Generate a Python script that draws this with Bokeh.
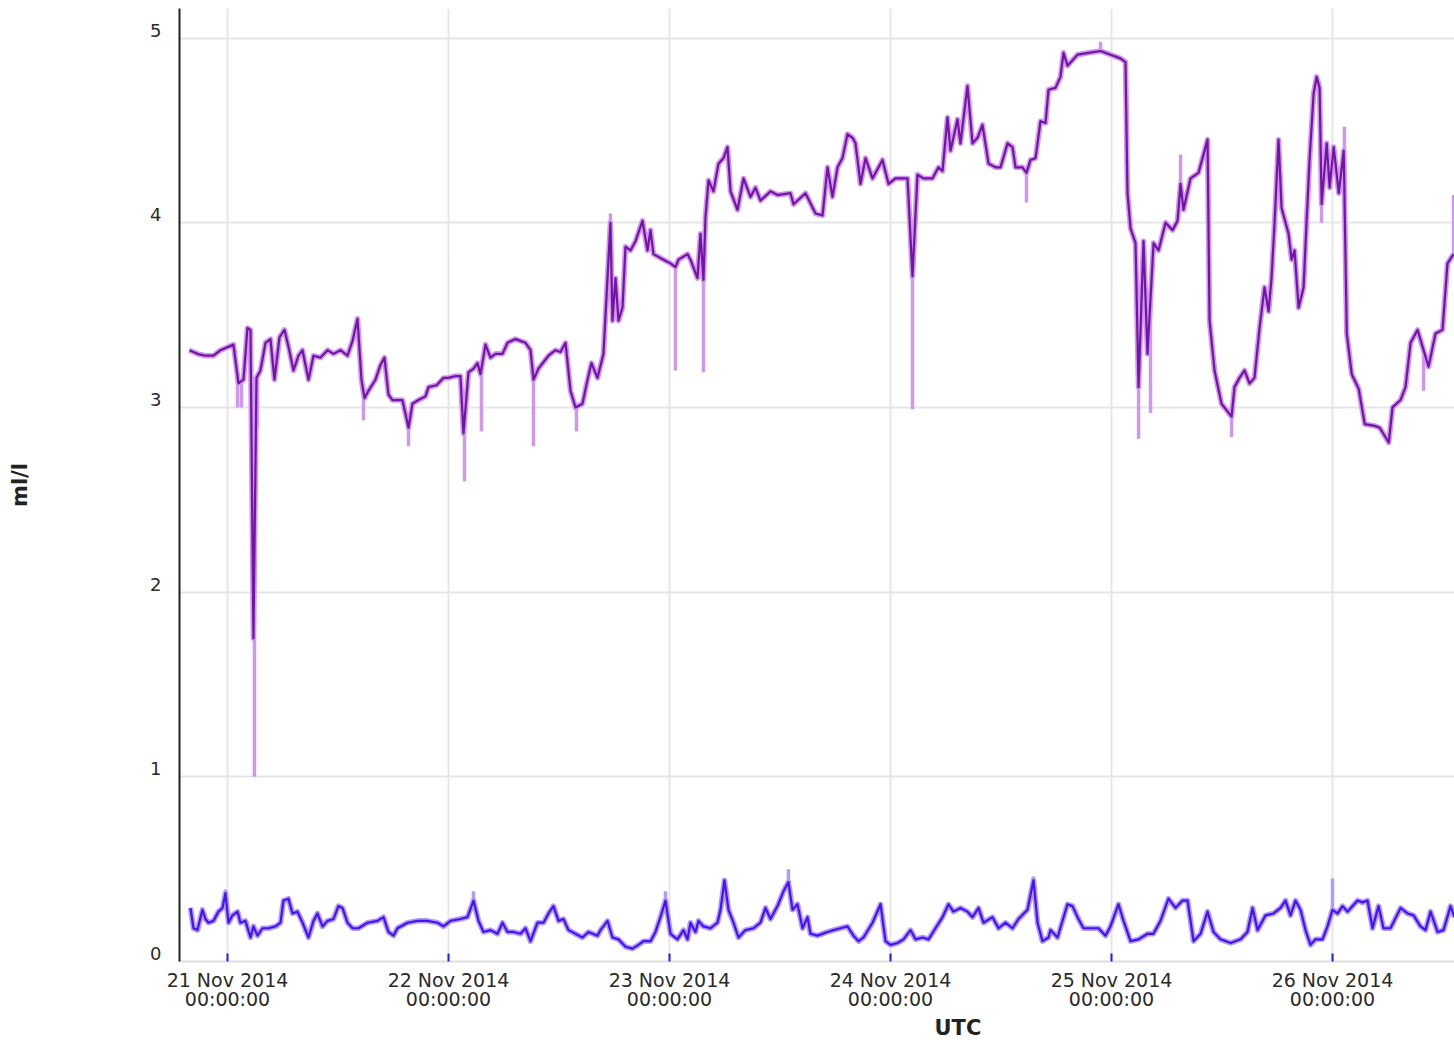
import numpy as np
import pandas as pd
from bokeh.plotting import figure
from bokeh.models import FixedTicker, Range1d, Title
from bokeh.embed import file_html
from bokeh.resources import INLINE

# ---------------- data (hours after 21 Nov 2014 00:00 UTC) ----------------
BASE = "2014-11-21 00:00:00"

purple_hours = [
    -4.13, -3.26, -2.39, -1.52, -0.76, 0.65, 1.19, 1.74, 2.17, 2.50, 2.82, 3.15, 3.58,
    4.13, 4.67, 5.10, 5.65, 6.19, 6.62, 7.17, 7.71, 8.15, 8.80, 9.34, 10.10, 10.86,
    11.51, 12.27, 13.03, 13.58, 14.12, 14.55, 14.88, 15.31, 16.07, 16.62, 17.05, 17.48,
    17.92, 19.00, 19.66, 20.09, 20.74, 21.50, 21.83, 22.70, 23.46, 24.00, 24.76, 25.30,
    25.63, 26.17, 26.72, 27.15, 27.48, 28.02, 28.56, 29.11, 29.87, 30.41, 31.28, 32.36,
    32.91, 33.23, 33.77, 34.86, 35.62, 36.16, 36.71, 37.25, 37.79, 38.55, 39.10, 39.53,
    40.18, 40.83, 41.27, 41.59, 41.81, 42.14, 42.46, 42.90, 43.22, 43.77, 44.31, 45.07,
    45.61, 45.94, 46.26, 47.35, 48.11, 48.65, 48.98, 49.96, 50.28, 51.04, 51.37, 51.69,
    51.91, 52.24, 52.78, 53.32, 53.87, 54.30, 54.63, 55.39, 56.04, 56.80, 57.34, 57.88,
    58.97, 59.73, 61.14, 61.47, 62.77, 63.86, 64.62, 65.16, 65.70, 66.25, 66.79, 67.33,
    67.88, 68.20, 68.74, 69.29, 70.05, 71.13, 71.79, 72.55, 73.85, 74.39, 74.93, 75.59,
    76.56, 77.21, 77.65, 78.19, 78.52, 79.28, 79.60, 80.36, 80.91, 81.45, 81.99, 82.65,
    83.41, 83.95, 84.71, 85.25, 85.58, 86.34, 86.77, 87.21, 87.75, 88.29, 88.84, 89.16,
    89.92, 90.46, 90.79, 91.23, 92.31, 93.51, 94.81, 95.90, 96.98, 97.52, 97.74, 98.07,
    98.61, 98.94, 99.48, 99.91, 100.57, 101.11, 101.87, 102.63, 103.17, 103.50, 103.82,
    104.58, 105.45, 106.00, 106.43, 106.65, 107.19, 107.95, 109.04, 109.36, 109.90,
    110.45, 110.99, 111.53, 112.08, 112.62, 113.06, 113.38, 113.71, 114.14, 114.47,
    115.23, 115.56, 115.88, 116.32, 116.86, 117.19, 117.51, 117.95, 118.28, 118.60,
    118.82, 119.37, 119.69, 120.13, 120.68, 121.22, 121.55, 122.09, 122.85, 123.50,
    124.59, 125.13, 126.11, 126.52, 127.39, 127.93, 128.48, 129.24, 129.89, 130.43,
    131.19, 131.95, 132.49, 133.15,
]
purple_vals = [
    3.31, 3.29, 3.28, 3.28, 3.31, 3.34, 3.13, 3.15, 3.43, 3.42, 1.75, 3.16, 3.20,
    3.35, 3.37, 3.15, 3.38, 3.42, 3.33, 3.20, 3.28, 3.31, 3.15, 3.28, 3.27, 3.31,
    3.29, 3.31, 3.28, 3.36, 3.48, 3.15, 3.05, 3.09, 3.15, 3.23, 3.27, 3.07,
    3.04, 3.04, 2.89, 3.02, 3.04, 3.06, 3.11, 3.12, 3.16, 3.16, 3.17, 3.17,
    2.86, 3.19, 3.21, 3.24, 3.18, 3.34, 3.27, 3.29, 3.29, 3.35, 3.37, 3.35,
    3.31, 3.15, 3.21, 3.28, 3.31, 3.30, 3.35, 3.09, 3.00, 3.02, 3.15, 3.24,
    3.16, 3.29, 3.70, 4.00, 3.47, 3.70, 3.47, 3.54, 3.87, 3.85, 3.90, 4.01,
    3.85, 3.96, 3.83, 3.80, 3.78, 3.76, 3.80, 3.83, 3.80, 3.70, 3.94, 3.69,
    4.03, 4.23, 4.17, 4.32, 4.35, 4.41, 4.17, 4.07, 4.24, 4.14, 4.19, 4.12,
    4.17, 4.15, 4.16, 4.10, 4.16, 4.05, 4.04, 4.30, 4.14, 4.30, 4.35, 4.48,
    4.46, 4.43, 4.21, 4.35, 4.24, 4.34, 4.21, 4.24, 4.24, 3.71, 4.26, 4.24,
    4.24, 4.30, 4.28, 4.57, 4.39, 4.56, 4.43, 4.74, 4.43, 4.46, 4.53, 4.32,
    4.30, 4.30, 4.43, 4.41, 4.30, 4.30, 4.27, 4.34, 4.35, 4.55, 4.54, 4.72,
    4.73, 4.79, 4.92, 4.85, 4.91, 4.92, 4.93, 4.91, 4.89, 4.87, 4.16, 3.97,
    3.89, 3.11, 3.90, 3.29, 3.89, 3.85, 4.00, 3.96, 4.01, 4.21, 4.07,
    4.24, 4.27, 4.37, 4.45, 3.47, 3.20, 3.02, 2.95, 3.11, 3.16,
    3.20, 3.13, 3.16, 3.43, 3.65, 3.52, 3.70, 4.00, 4.45, 4.08,
    3.94, 3.80, 3.85, 3.54, 3.65, 4.01, 4.34, 4.70, 4.79, 4.73,
    4.10, 4.43, 4.19, 4.41, 4.16, 4.39, 3.40, 3.18, 3.10, 2.91,
    2.90, 2.89, 2.81, 3.00, 3.04, 3.11, 3.35, 3.42, 3.31, 3.22,
    3.40, 3.42, 3.78, 3.83,
]
# short excursions of the raw readings (light purple)
purple_spike_hours = [1.09, 1.52, 2.93, 3.26, 14.77, 19.66, 25.74, 27.58, 33.23, 37.90,
                      41.59, 48.65, 51.69, 74.39, 86.77, 94.81, 98.94, 100.24, 103.50,
                      109.04, 118.81, 121.30, 129.89, 133.15]
purple_spike_vals = [3.00, 3.00, 1.00, 2.89, 2.93, 2.79, 2.60, 2.87, 2.79, 2.87,
                     4.05, 3.20, 3.19, 2.99, 4.11, 4.98, 2.83, 2.97, 4.37,
                     2.84, 4.00, 4.52, 3.09, 4.15]

blue_hours = [
    -4.02, -3.69, -3.26, -2.72, -2.39, -2.06, -1.52, -0.98, -0.54, -0.22, 0.11, 0.54,
    1.09, 1.41, 1.95, 2.50, 2.82, 3.26, 3.80, 4.45, 5.21, 5.76, 6.08, 6.62, 7.06, 7.60,
    8.15, 8.80, 9.34, 9.77, 10.32, 10.86, 11.51, 12.05, 12.49, 13.03, 13.58, 14.23,
    15.20, 16.29, 16.94, 17.48, 18.03, 18.46, 19.55, 20.63, 21.72, 22.81, 23.46, 24.22,
    25.30, 26.06, 26.72, 27.26, 27.80, 28.56, 29.32, 29.87, 30.41, 31.06, 31.82, 32.36,
    32.91, 33.67, 34.32, 34.86, 35.40, 35.95, 36.49, 37.03, 37.79, 38.55, 39.20, 40.18,
    40.51, 41.27, 41.81, 42.46, 43.22, 43.98, 44.63, 45.18, 45.94, 46.48, 47.02, 47.57,
    48.11, 48.87, 49.52, 49.96, 50.28, 50.82, 51.15, 51.69, 52.45, 53.21, 53.54, 53.97,
    54.41, 54.95, 55.49, 56.25, 57.12, 57.88, 58.43, 58.97, 59.73, 60.38, 60.92, 61.36,
    61.90, 62.45, 62.99, 63.31, 64.07, 65.16, 65.81, 66.57, 67.33, 67.98, 68.53, 69.07,
    70.05, 70.92, 71.46, 72.00, 72.76, 73.41, 74.17, 74.72, 75.48, 76.13, 76.89, 77.65,
    78.30, 78.84, 79.60, 80.36, 80.91, 81.56, 82.10, 83.08, 83.73, 84.49, 85.25, 85.90,
    86.88, 87.53, 87.97, 88.51, 89.16, 89.38, 90.14, 91.22, 91.77, 92.31, 92.96, 93.72,
    94.59, 95.35, 95.89, 96.76, 97.31, 98.07, 98.93, 99.91, 100.56, 101.32, 102.19,
    102.95, 103.71, 104.26, 104.91, 105.67, 106.43, 107.08, 107.84, 108.93, 110.01,
    110.77, 111.32, 111.86, 112.73, 113.60, 114.36, 114.90, 115.44, 115.98, 116.53,
    117.07, 117.61, 118.16, 118.92, 119.46, 120.00, 120.55, 121.09, 121.63, 122.18,
    122.72, 123.26, 123.80, 124.35, 125.00, 125.54, 126.30, 127.39, 128.15, 128.80,
    129.56, 130.10, 130.65, 131.41, 132.06, 132.82, 133.25,
]
blue_vals = [
    0.29, 0.18, 0.17, 0.28, 0.23, 0.21, 0.22, 0.27, 0.29, 0.37, 0.21, 0.25,
    0.27, 0.21, 0.22, 0.13, 0.19, 0.14, 0.18, 0.18, 0.19, 0.21, 0.33, 0.34, 0.26, 0.27,
    0.21, 0.13, 0.22, 0.26, 0.19, 0.22, 0.23, 0.30, 0.29, 0.21, 0.18, 0.18,
    0.21, 0.22, 0.24, 0.16, 0.14, 0.18, 0.21, 0.22, 0.22, 0.21, 0.19, 0.22,
    0.23, 0.24, 0.33, 0.22, 0.16, 0.17, 0.15, 0.21, 0.16, 0.16, 0.15, 0.18,
    0.11, 0.21, 0.21, 0.26, 0.30, 0.22, 0.23, 0.17, 0.15, 0.13, 0.16, 0.14,
    0.17, 0.22, 0.13, 0.12, 0.08, 0.07, 0.09, 0.11, 0.11, 0.16, 0.24, 0.33,
    0.15, 0.12, 0.17, 0.12, 0.21, 0.16, 0.22, 0.19, 0.18, 0.21, 0.28, 0.44,
    0.28, 0.21, 0.13, 0.17, 0.18, 0.21, 0.29, 0.23, 0.30, 0.38, 0.43, 0.28,
    0.31, 0.18, 0.24, 0.15, 0.14, 0.16, 0.17, 0.18, 0.19, 0.14, 0.11, 0.13,
    0.21, 0.31, 0.11, 0.09, 0.10, 0.12, 0.17, 0.12, 0.13, 0.12, 0.18, 0.24,
    0.31, 0.27, 0.29, 0.27, 0.24, 0.29, 0.21, 0.24, 0.18, 0.21, 0.18, 0.23,
    0.28, 0.44, 0.21, 0.11, 0.13, 0.17, 0.13, 0.31, 0.30, 0.24, 0.18, 0.18,
    0.18, 0.14, 0.19, 0.31, 0.22, 0.11, 0.12, 0.15, 0.15, 0.22, 0.34,
    0.29, 0.33, 0.33, 0.11, 0.15, 0.27, 0.16, 0.12, 0.10, 0.12,
    0.16, 0.29, 0.17, 0.25, 0.26, 0.29, 0.33, 0.25, 0.33, 0.28,
    0.17, 0.09, 0.12, 0.12, 0.19, 0.28, 0.26, 0.30, 0.27, 0.30,
    0.33, 0.32, 0.33, 0.18, 0.30, 0.18, 0.18, 0.29, 0.26, 0.25,
    0.19, 0.17, 0.27, 0.16, 0.17, 0.30, 0.24,
]
blue_spike_hours = [-0.22, 26.72, 47.57, 60.92, 87.53, 120.00]
blue_spike_vals = [0.39, 0.38, 0.38, 0.50, 0.46, 0.45]

tick_days = ["2014-11-21", "2014-11-22", "2014-11-23", "2014-11-24", "2014-11-25", "2014-11-26"]
tick_labels = ["21 Nov 2014\n00:00:00", "22 Nov 2014\n00:00:00", "23 Nov 2014\n00:00:00",
               "24 Nov 2014\n00:00:00", "25 Nov 2014\n00:00:00", "26 Nov 2014\n00:00:00"]
y_ticks = [0, 1, 2, 3, 4, 5]
y_tick_labels = ["0", "1", "2", "3", "4", "5"]

# ---------------- helpers ----------------
base = pd.Timestamp(BASE)


def to_time(hours):
    return base + pd.to_timedelta(np.asarray(hours, dtype=float), unit="h")


FONT = "DejaVu Sans"
PURPLE_DARK, PURPLE_LIGHT = "#7414a4", "#cf98ec"
BLUE_DARK, BLUE_LIGHT = "#4612f2", "#b09afa"

x_start = to_time([-5.21])[0]
x_end = to_time([133.25])[0]

p = figure(width=1454, height=1042, x_axis_type="datetime",
           x_range=Range1d(x_start, x_end), y_range=Range1d(0, 5.16),
           output_backend="svg", toolbar_location=None,
           min_border_left=179, min_border_right=0, min_border_top=8, min_border_bottom=81)
p.outline_line_color = None
p.background_fill_color = "white"
p.border_fill_color = "white"

# series
for hrs, vals, sh, sv, dark, light in [
    (purple_hours, purple_vals, purple_spike_hours, purple_spike_vals, PURPLE_DARK, PURPLE_LIGHT),
    (blue_hours, blue_vals, blue_spike_hours, blue_spike_vals, BLUE_DARK, BLUE_LIGHT),
]:
    t = to_time(hrs)
    anchor = np.interp(np.asarray(sh), np.asarray(hrs), np.asarray(vals))
    ts = to_time(sh)
    p.segment(x0=ts, y0=anchor, x1=ts, y1=sv, line_color=light, line_width=3.5)
    p.line(t, vals, line_color=light, line_width=5.5, line_join="round")
    p.line(t, vals, line_color=dark, line_width=2.2, line_join="round")

# x axis
tick_ms = [pd.Timestamp(d).value / 1e6 for d in tick_days]
p.xaxis.ticker = FixedTicker(ticks=tick_ms)
p.xaxis.major_label_overrides = {ms: lab for ms, lab in zip(tick_ms, tick_labels)}
p.xaxis.major_label_text_font = FONT
p.xaxis.major_label_text_font_size = "19px"
p.xaxis.major_label_text_line_height = 0.9
p.xaxis.major_label_text_color = "#2a2a2a"
p.xaxis.major_label_standoff = 7
p.xaxis.major_tick_in = 8
p.xaxis.major_tick_out = 0
p.xaxis.major_tick_line_color = "#1a1aff"
p.xaxis.major_tick_line_width = 2
p.xaxis.minor_tick_line_color = None
p.xaxis.axis_line_color = "#dedede"
p.xaxis.axis_line_width = 2

# y axis (labels sit just above their grid line, as in the reference)
p.yaxis.ticker = FixedTicker(ticks=y_ticks)
p.yaxis.major_label_overrides = {t: lab + "\n" for t, lab in zip(y_ticks, y_tick_labels)}
p.yaxis.major_label_text_font = FONT
p.yaxis.major_label_text_font_size = "18px"
p.yaxis.major_label_text_line_height = 0.75
p.yaxis.major_label_text_color = "#2a2a2a"
p.yaxis.major_label_standoff = 12
p.yaxis.major_tick_line_color = None
p.yaxis.minor_tick_line_color = None
p.yaxis.axis_line_color = "#222222"
p.yaxis.axis_line_width = 2
p.yaxis.axis_label = "ml/l"
p.yaxis.axis_label_text_font = FONT
p.yaxis.axis_label_text_font_size = "21px"
p.yaxis.axis_label_text_font_style = "bold"
p.yaxis.axis_label_text_color = "#222222"
p.yaxis.axis_label_standoff = 115

# grids
p.xgrid.grid_line_color = "#e6e6e6"
p.xgrid.grid_line_width = 2
p.ygrid.ticker = FixedTicker(ticks=y_ticks)
p.ygrid.grid_line_color = "#e6e6e6"
p.ygrid.grid_line_width = 2

# x-axis title (placed off-centre as in the reference)
p.add_layout(Title(text="UTC", align="left", offset=755, standoff=0,
                   text_font=FONT, text_font_size="21px", text_font_style="bold",
                   text_color="#222222"), "below")

open("out.html", "w").write(file_html(p, INLINE))
